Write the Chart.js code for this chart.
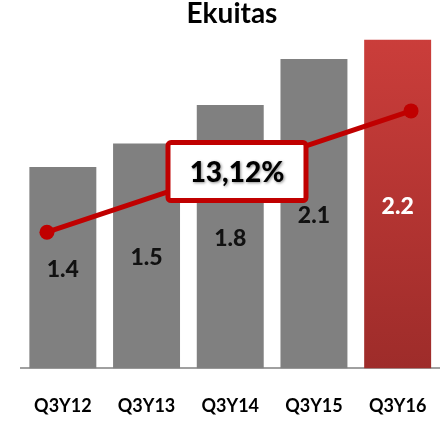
<!DOCTYPE html>
<html>
<head>
<meta charset="utf-8">
<script src="https://cdn.jsdelivr.net/npm/chart.js@4"></script>
<style>
  html, body { margin: 0; padding: 0; background: #fff; overflow: hidden; }
  #wrap { position: relative; width: 447px; height: 426px; }
</style>
</head>
<body>
<div id="wrap"><canvas id="ekuitasChart"></canvas></div>
<script>
const periodes = ['Q3Y12', 'Q3Y13', 'Q3Y14', 'Q3Y15', 'Q3Y16'];
const ekuitas = [1.36, 1.52, 1.78, 2.09, 2.22];
// trend line drawn across the bars (x in category units)
const trendX = [-0.19, 4.16];
const trendY = [0.92, 1.74];
const cagrText = '13,12%';

const FONT = 'Lato, "Open Sans", sans-serif';
const RED = '#c00000';

const barColor = ctx => {
  if (ctx.dataIndex !== periodes.length - 1) return '#808080';
  const area = ctx.chart.chartArea;
  if (!area) return '#b83532';
  const g = ctx.chart.ctx.createLinearGradient(0, area.top, 0, area.bottom);
  g.addColorStop(0, '#cc3e3b');
  g.addColorStop(1, '#9e2c2a');
  return g;
};

const labelsPlugin = {
  id: 'barLabels',
  afterDatasetsDraw(chart) {
    const c = chart.ctx;
    const meta = chart.getDatasetMeta(0);
    c.save();
    c.font = '900 23px ' + FONT;
    c.textAlign = 'center';
    c.textBaseline = 'middle';
    meta.data.forEach((bar, i) => {
      c.fillStyle = i === periodes.length - 1 ? '#ffffff' : '#111111';
      c.fillText(ekuitas[i].toFixed(1), bar.x, (bar.y + bar.base) / 2 + 2);
    });

    // CAGR box at the middle of the trend line
    const pts = chart.getDatasetMeta(1).data;
    const cx = (pts[0].x + pts[1].x) / 2 + 8;
    const cy = (pts[0].y + pts[1].y) / 2;
    const w = 138, h = 58;
    c.beginPath();
    c.roundRect(cx - w / 2, cy - h / 2, w, h, 3);
    c.fillStyle = '#ffffff';
    c.fill();
    c.lineWidth = 5;
    c.strokeStyle = RED;
    c.stroke();
    c.font = '900 28px ' + FONT;
    c.fillStyle = '#000000';
    c.shadowColor = 'rgba(0,0,0,0.45)';
    c.shadowBlur = 3;
    c.shadowOffsetX = 1;
    c.shadowOffsetY = 1;
    c.fillText(cagrText, cx, cy + 1);
    c.restore();
  }
};

new Chart(document.getElementById('ekuitasChart'), {
  type: 'bar',
  data: {
    labels: periodes,
    datasets: [
      {
        type: 'bar',
        label: 'Ekuitas',
        data: ekuitas,
        backgroundColor: barColor,
        borderWidth: 0,
        categoryPercentage: 0.8,
        barPercentage: 1,
        grouped: false,
        order: 2
      },
      {
        type: 'line',
        label: 'Tren',
        data: trendX.map((x, i) => ({ x: x, y: trendY[i] })),
        xAxisID: 'xLine',
        borderColor: RED,
        borderWidth: 5,
        pointRadius: 7.5,
        pointBackgroundColor: RED,
        pointBorderWidth: 0,
        order: 1
      }
    ]
  },
  options: {
    responsive: true,
    maintainAspectRatio: false,
    devicePixelRatio: 1,
    animation: false,
    layout: { padding: { left: 21, right: 4, top: 0, bottom: 6 } },
    plugins: {
      legend: { display: false },
      tooltip: { enabled: false },
      title: {
        display: true,
        text: 'Ekuitas',
        color: '#000',
        font: { family: FONT, size: 28, weight: 'bold', lineHeight: 1 },
        padding: { top: 0, bottom: 0 }
      }
    },
    scales: {
      x: {
        grid: { display: false, drawTicks: true, tickLength: 24 },
        border: { display: true, color: '#a0a0a0', width: 2 },
        ticks: {
          color: '#000',
          padding: 3,
          font: { family: FONT, size: 18, weight: 'bold' }
        }
      },
      xLine: {
        type: 'linear',
        display: false,
        offset: false,
        min: -0.5,
        max: 4.5
      },
      y: {
        display: false,
        min: 0,
        max: 2.3
      }
    }
  },
  plugins: [labelsPlugin]
});
</script>
</body>
</html>
